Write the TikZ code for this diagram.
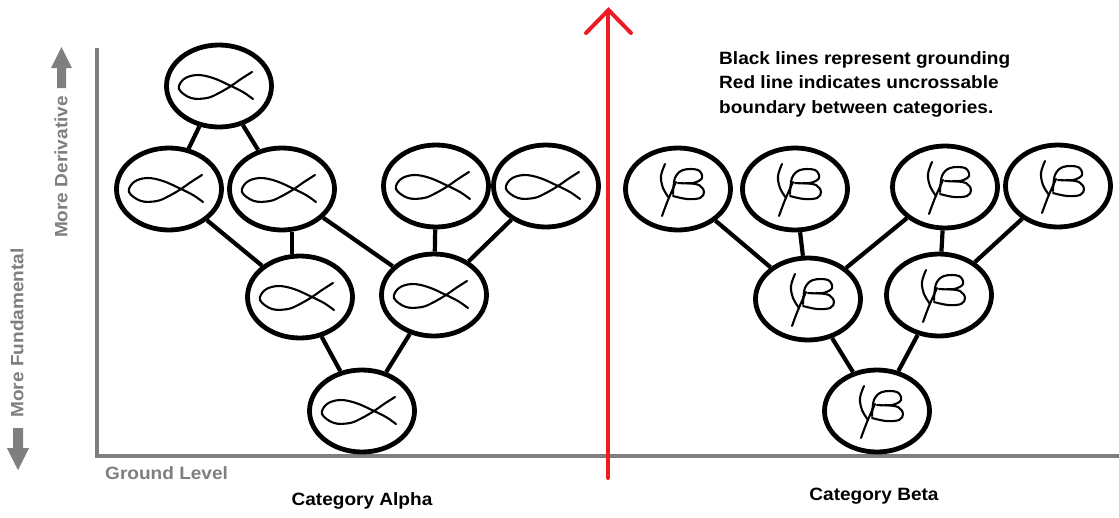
\documentclass[tikz,border=0pt]{standalone}
\usepackage{fontspec}
\setmainfont{Liberation Sans}[FakeStretch=1.07]
\usetikzlibrary{shapes.geometric}
\definecolor{axisgray}{HTML}{7F7F7F}
\definecolor{bound}{HTML}{ED1C24}
\tikzset{
  x=1pt, y=-1pt,
  bubble/.style={ellipse, draw=black, line width=4.8pt, fill=white,
    minimum width=105pt, minimum height=82pt, inner sep=0pt},
  tie/.style={line width=4.2pt, black},
  glyph/.style={line width=2.1pt, line cap=round, line join=round},
  lbl/.style={font=\fontsize{17.8}{24.5}\selectfont\bfseries, inner sep=0pt},
  pics/alphaglyph/.style={code={
    \draw[glyph] plot[smooth, tension=0.6] coordinates
      {(33,-14) (22,-7) (12,0) (0,7) (-12,12) (-28,12) (-40,3) (-35,-7) (-22,-11) (-6,-8) (12,0) (24,6) (34,13)};
  }},
  pics/betaglyph/.style={code={
    \draw[glyph] plot[smooth, tension=0.6] coordinates {(-13,-25) (-17,-13) (-15,-1) (-9,9)};
    \draw[glyph] plot[smooth, tension=0.6] coordinates {(-2,-7) (-10,11) (-16,27)};
    \draw[glyph] plot[smooth, tension=0.6] coordinates
      {(-5,5) (-3,-11) (5,-19) (20,-19) (24,-11) (15,-6) (0,-6)};
    \draw[glyph] plot[smooth, tension=0.6] coordinates
      {(8,-6) (21,-4) (26,3) (22,9) (9,10) (-5,7)};
  }}
}
\begin{document}
\begin{tikzpicture}
\useasboundingbox[fill=white] (0,0) rectangle (1119,517);

% axes
\draw[axisgray, line width=4.5pt] (97,48) -- (97,456) -- (1119,456);

% direction arrows and their captions
\fill[axisgray] (57,88) -- (57,68) -- (51,68) -- (61.5,47) -- (72,68) -- (66,68) -- (66,88) -- cycle;
\node[lbl, text=axisgray, rotate=90] (deriv) at (61,167) {More Derivative};
\fill[axisgray] (13,428) -- (13,448) -- (7,448) -- (18,470) -- (29,448) -- (23,448) -- (23,428) -- cycle;
\node[lbl, text=axisgray, rotate=90] (fund) at (17,333) {More Fundamental};
\node[lbl, text=axisgray, anchor=west] (ground) at (105,473) {Ground Level};

% boundary between categories
\draw[bound, line width=4pt, line cap=round] (608,478) -- (608,11);
\draw[bound, line width=4pt, line cap=round, line join=miter] (586,33) -- (608.5,10) -- (631,33);

% legend
\node[lbl, anchor=north west, align=left] (legend) at (719,51)
  {Black lines represent grounding\\Red line indicates uncrossable\\boundary between categories.};

% category alpha
\node[bubble] (a1) at (219,86) {};
\node[bubble] (a2) at (169,189) {};
\node[bubble] (a3) at (282,189) {};
\node[bubble] (a4) at (436,186) {};
\node[bubble] (a5) at (546,186) {};
\node[bubble] (a6) at (300,297) {};
\node[bubble] (a7) at (434,295) {};
\node[bubble] (a8) at (362,411) {};
\foreach \n in {a1,a2,a3,a4,a5,a6,a7,a8} \pic at (\n) {alphaglyph};
\draw[tie] (a1) -- (a2);
\draw[tie] (a1) -- (a3);
\draw[tie] (a2) -- (a6);
\draw[tie] (a3.south) ++(10,0) coordinate (a3b) -- (a3b |- a6.north);
\draw[tie] (a3) -- (a7);
\draw[tie] (a4) -- (a7);
\draw[tie] (a5) -- (a7);
\draw[tie] (a6) -- (a8);
\draw[tie] (a7) -- (a8);
\node[lbl] (alpha) at (362,501) {Category Alpha};

% category beta
\node[bubble] (b1) at (678,189) {};
\node[bubble] (b2) at (795,189) {};
\node[bubble] (b3) at (945,187) {};
\node[bubble] (b4) at (1058,186) {};
\node[bubble] (b5) at (808,299) {};
\node[bubble] (b6) at (939,295) {};
\node[bubble] (b7) at (877,411) {};
\foreach \n in {b1,b2,b3,b4,b5,b6,b7} \pic at (\n) {betaglyph};
\draw[tie] (b1) -- (b5);
\draw[tie] (b2) -- (b5);
\draw[tie] (b3) -- (b5);
\draw[tie] (b3) -- (b6);
\draw[tie] (b4) -- (b6);
\draw[tie] (b5) -- (b7);
\draw[tie] (b6) -- (b7);
\node[lbl] (beta) at (874,496) {Category Beta};
\end{tikzpicture}
\end{document}
